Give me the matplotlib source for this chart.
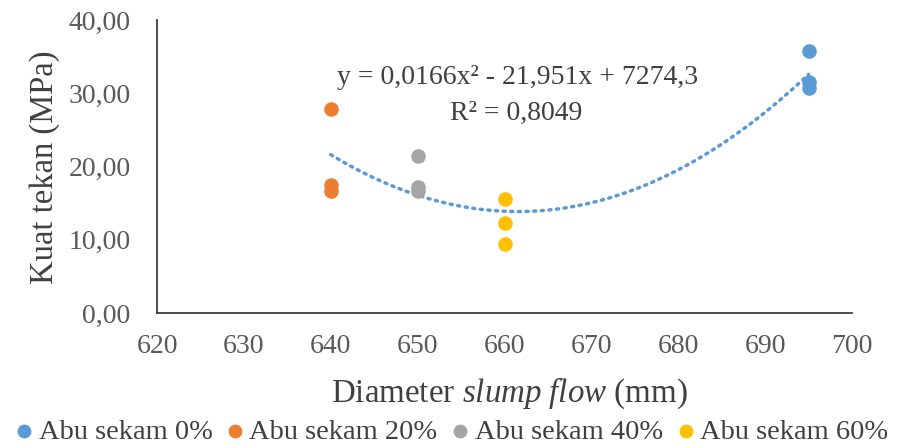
import matplotlib
matplotlib.use('Agg')
import matplotlib.pyplot as plt
import numpy as np

# data
groups = ['Abu sekam 0%', 'Abu sekam 20%', 'Abu sekam 40%', 'Abu sekam 60%']
colors = ['#5B9BD5', '#ED7D31', '#A5A5A5', '#FFC000']
flow = [695, 640, 650, 660]
strength = [
  [35.8, 31.6, 30.7],
  [27.9, 17.5, 16.6],
  [21.4, 17.2, 16.6],
  [15.5, 12.3, 9.4],
]
eq_text = 'y = 0,0166x² - 21,951x + 7274,3'
r2_text = 'R² = 0,8049'

plt.rcParams['font.family'] = ['Liberation Serif', 'DejaVu Serif']
plt.rcParams['mathtext.fontset'] = 'custom'
plt.rcParams['mathtext.rm'] = 'Liberation Serif'
plt.rcParams['mathtext.it'] = 'Liberation Serif:italic'

fig = plt.figure(figsize=(8.98, 4.48), dpi=100)
ax = fig.add_axes([157/898, 1-313/448, (852-157)/898, (313-20)/448])

for name, c, x, ys in zip(groups, colors, flow, strength):
  ax.scatter([x]*len(ys), ys, s=110, color=c, label=name, zorder=3, linewidths=0)

# polynomial trendline (order 2) over all points
allx = np.concatenate([[x]*len(ys) for x, ys in zip(flow, strength)])
ally = np.concatenate(strength)
coef = np.polyfit(allx, ally, 2)
xx = np.linspace(min(flow), max(flow), 200)
ax.plot(xx, np.polyval(coef, xx), color='#5B9BD5', lw=2.5, ls=(0, (0.6, 1.6)),
        dash_capstyle='round', zorder=2)

ax.text(661.5, 32.1, eq_text, ha='center', va='center', fontsize=20, color='#404040')
ax.text(661.3, 27.3, r2_text, ha='center', va='center', fontsize=20, color='#404040')

ax.set_xlim(620, 700)
ax.set_ylim(0, 40)
ax.set_xticks(np.arange(620, 701, 10))
ax.set_yticks(np.arange(0, 41, 10))
ax.set_yticklabels(['%d,00' % v for v in np.arange(0, 41, 10)])
ax.tick_params(length=0, labelsize=20, colors='#595959')
ax.tick_params(axis='y', pad=19)
ax.tick_params(axis='x', pad=15)
for s in ['top', 'right']:
  ax.spines[s].set_visible(False)
for s in ['left', 'bottom']:
  ax.spines[s].set_color('#404040')
  ax.spines[s].set_linewidth(1.3)

fig.text(45/898, 1-167.5/448, 'Kuat tekan (MPa)', rotation=90, ha='center', va='center',
         fontsize=23.5, color='#404040')
fig.text(509/898, 1-393/448, 'Diameter $\\it{slump\\ flow}$ (mm)', ha='center', va='center',
         fontsize=23.8, color='#404040')

fig.legend(loc='center', bbox_to_anchor=(0.5, 1-432/448), ncol=4, frameon=False,
           fontsize=20.5, handletextpad=0.0, columnspacing=0.3, handlelength=1.0,
           markerscale=0.95, labelcolor='#404040', borderaxespad=0.0, borderpad=0.0)

fig.savefig('out.png', dpi=100)
